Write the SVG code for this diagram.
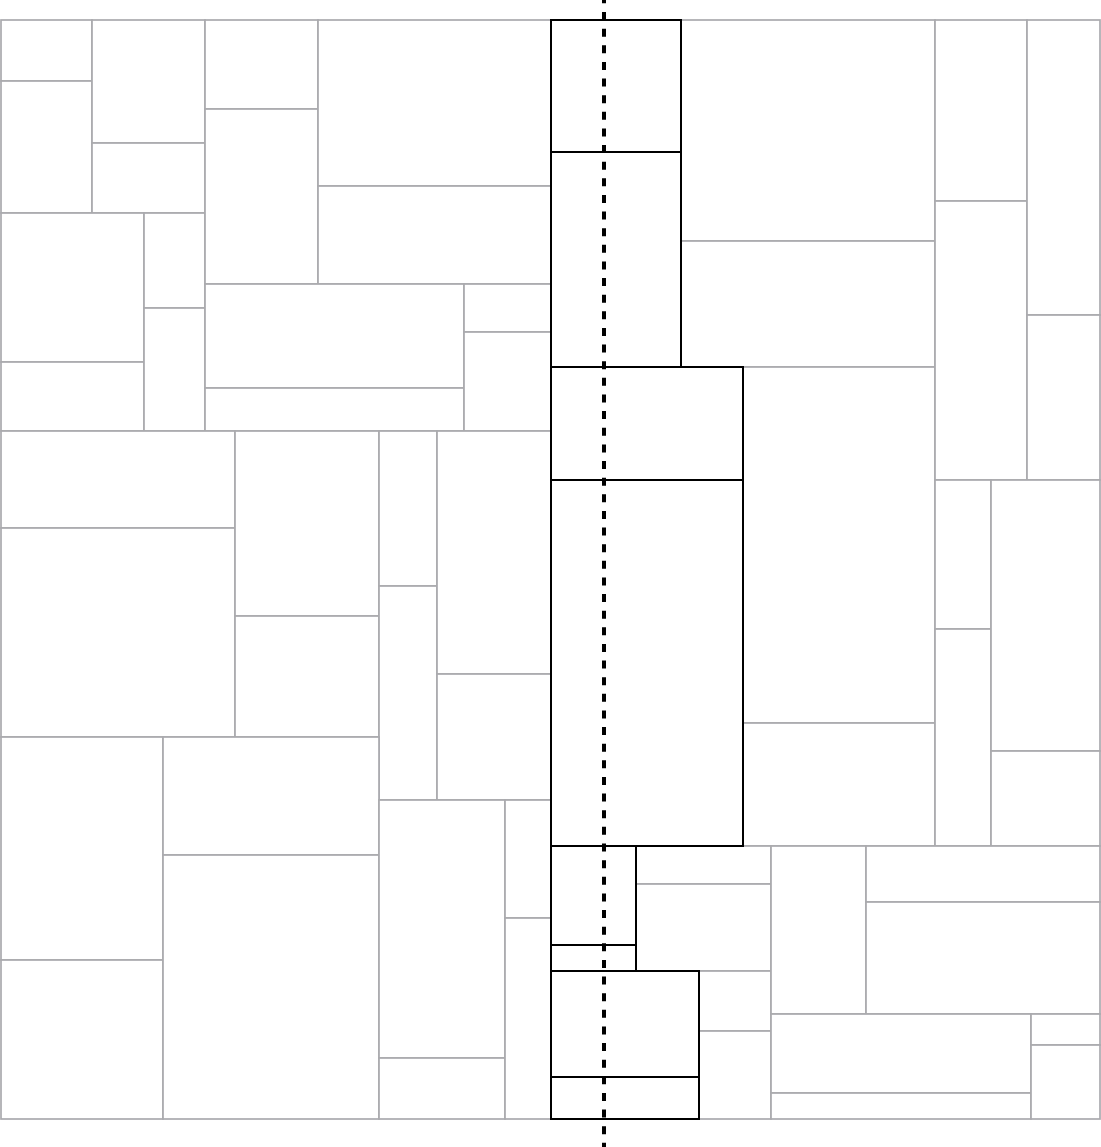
<svg xmlns="http://www.w3.org/2000/svg" width="1101" height="1147" viewBox="0 0 1101 1147">
<style>
.g{fill:#fff;stroke:#aaaaae;stroke-width:1.7}
.b{fill:none;stroke:#000;stroke-width:2}
.d{stroke:#000;stroke-width:4;stroke-dasharray:8 8.63;stroke-dashoffset:4.63;fill:none}
</style>
<rect width="1101" height="1147" fill="#fff"/>
<g id="cells">
<rect id="c1" class="g" x="1" y="20" width="91" height="61"/>
<rect id="c2" class="g" x="1" y="81" width="91" height="132"/>
<rect id="c3" class="g" x="92" y="20" width="113" height="123"/>
<rect id="c4" class="g" x="92" y="143" width="113" height="70"/>
<rect id="c5" class="g" x="1" y="213" width="143" height="149"/>
<rect id="c6" class="g" x="1" y="362" width="143" height="69"/>
<rect id="c7" class="g" x="144" y="213" width="61" height="95"/>
<rect id="c8" class="g" x="144" y="308" width="61" height="123"/>
<rect id="c9" class="g" x="205" y="20" width="113" height="89"/>
<rect id="c10" class="g" x="205" y="109" width="113" height="175"/>
<rect id="c11" class="g" x="318" y="20" width="233" height="166"/>
<rect id="c12" class="g" x="318" y="186" width="233" height="98"/>
<rect id="c13" class="g" x="205" y="284" width="259" height="104"/>
<rect id="c14" class="g" x="205" y="388" width="259" height="43"/>
<rect id="c15" class="g" x="464" y="284" width="87" height="48"/>
<rect id="c16" class="g" x="464" y="332" width="87" height="99"/>
<rect id="c17" class="g" x="1" y="431" width="234" height="97"/>
<rect id="c18" class="g" x="1" y="528" width="234" height="209"/>
<rect id="c19" class="g" x="235" y="431" width="144" height="185"/>
<rect id="c20" class="g" x="235" y="616" width="144" height="121"/>
<rect id="c21" class="g" x="379" y="431" width="58" height="155"/>
<rect id="c22" class="g" x="379" y="586" width="58" height="214"/>
<rect id="c23" class="g" x="437" y="431" width="114" height="243"/>
<rect id="c24" class="g" x="437" y="674" width="114" height="126"/>
<rect id="c25" class="g" x="1" y="737" width="162" height="223"/>
<rect id="c26" class="g" x="1" y="960" width="162" height="159"/>
<rect id="c27" class="g" x="163" y="737" width="216" height="118"/>
<rect id="c28" class="g" x="163" y="855" width="216" height="264"/>
<rect id="c29" class="g" x="379" y="800" width="126" height="258"/>
<rect id="c30" class="g" x="379" y="1058" width="126" height="61"/>
<rect id="c31" class="g" x="505" y="800" width="46" height="118"/>
<rect id="c32" class="g" x="505" y="918" width="46" height="201"/>
<rect id="c33" class="g" x="681" y="20" width="254" height="221"/>
<rect id="c34" class="g" x="681" y="241" width="254" height="126"/>
<rect id="c35" class="g" x="743" y="367" width="192" height="356"/>
<rect id="c36" class="g" x="743" y="723" width="192" height="123"/>
<rect id="c37" class="g" x="935" y="20" width="92" height="181"/>
<rect id="c38" class="g" x="935" y="201" width="92" height="279"/>
<rect id="c39" class="g" x="1027" y="20" width="73" height="295"/>
<rect id="c40" class="g" x="1027" y="315" width="73" height="165"/>
<rect id="c41" class="g" x="935" y="480" width="56" height="149"/>
<rect id="c42" class="g" x="935" y="629" width="56" height="217"/>
<rect id="c43" class="g" x="991" y="480" width="109" height="271"/>
<rect id="c44" class="g" x="991" y="751" width="109" height="95"/>
<rect id="c45" class="g" x="636" y="846" width="135" height="38"/>
<rect id="c46" class="g" x="636" y="884" width="135" height="87"/>
<rect id="c47" class="g" x="699" y="971" width="72" height="60"/>
<rect id="c48" class="g" x="699" y="1031" width="72" height="88"/>
<rect id="c49" class="g" x="771" y="846" width="95" height="168"/>
<rect id="c50" class="g" x="866" y="846" width="234" height="56"/>
<rect id="c51" class="g" x="866" y="902" width="234" height="112"/>
<rect id="c52" class="g" x="771" y="1014" width="260" height="79"/>
<rect id="c53" class="g" x="771" y="1093" width="260" height="26"/>
<rect id="c54" class="g" x="1031" y="1014" width="69" height="31"/>
<rect id="c55" class="g" x="1031" y="1045" width="69" height="74"/>
</g>
<g id="path-cells">
<rect id="p1" class="b" x="551" y="20" width="130" height="132"/>
<rect id="p2" class="b" x="551" y="152" width="130" height="215"/>
<rect id="p3" class="b" x="551" y="367" width="192" height="113"/>
<rect id="p4" class="b" x="551" y="480" width="192" height="366"/>
<rect id="p5" class="b" x="551" y="846" width="85" height="99"/>
<rect id="p6" class="b" x="551" y="945" width="85" height="26"/>
<rect id="p7" class="b" x="551" y="971" width="148" height="106"/>
<rect id="p8" class="b" x="551" y="1077" width="148" height="42"/>
</g>
<g id="connectors">
<line id="cut" class="d" x1="604" y1="0" x2="604" y2="1147"/>
</g>
</svg>
